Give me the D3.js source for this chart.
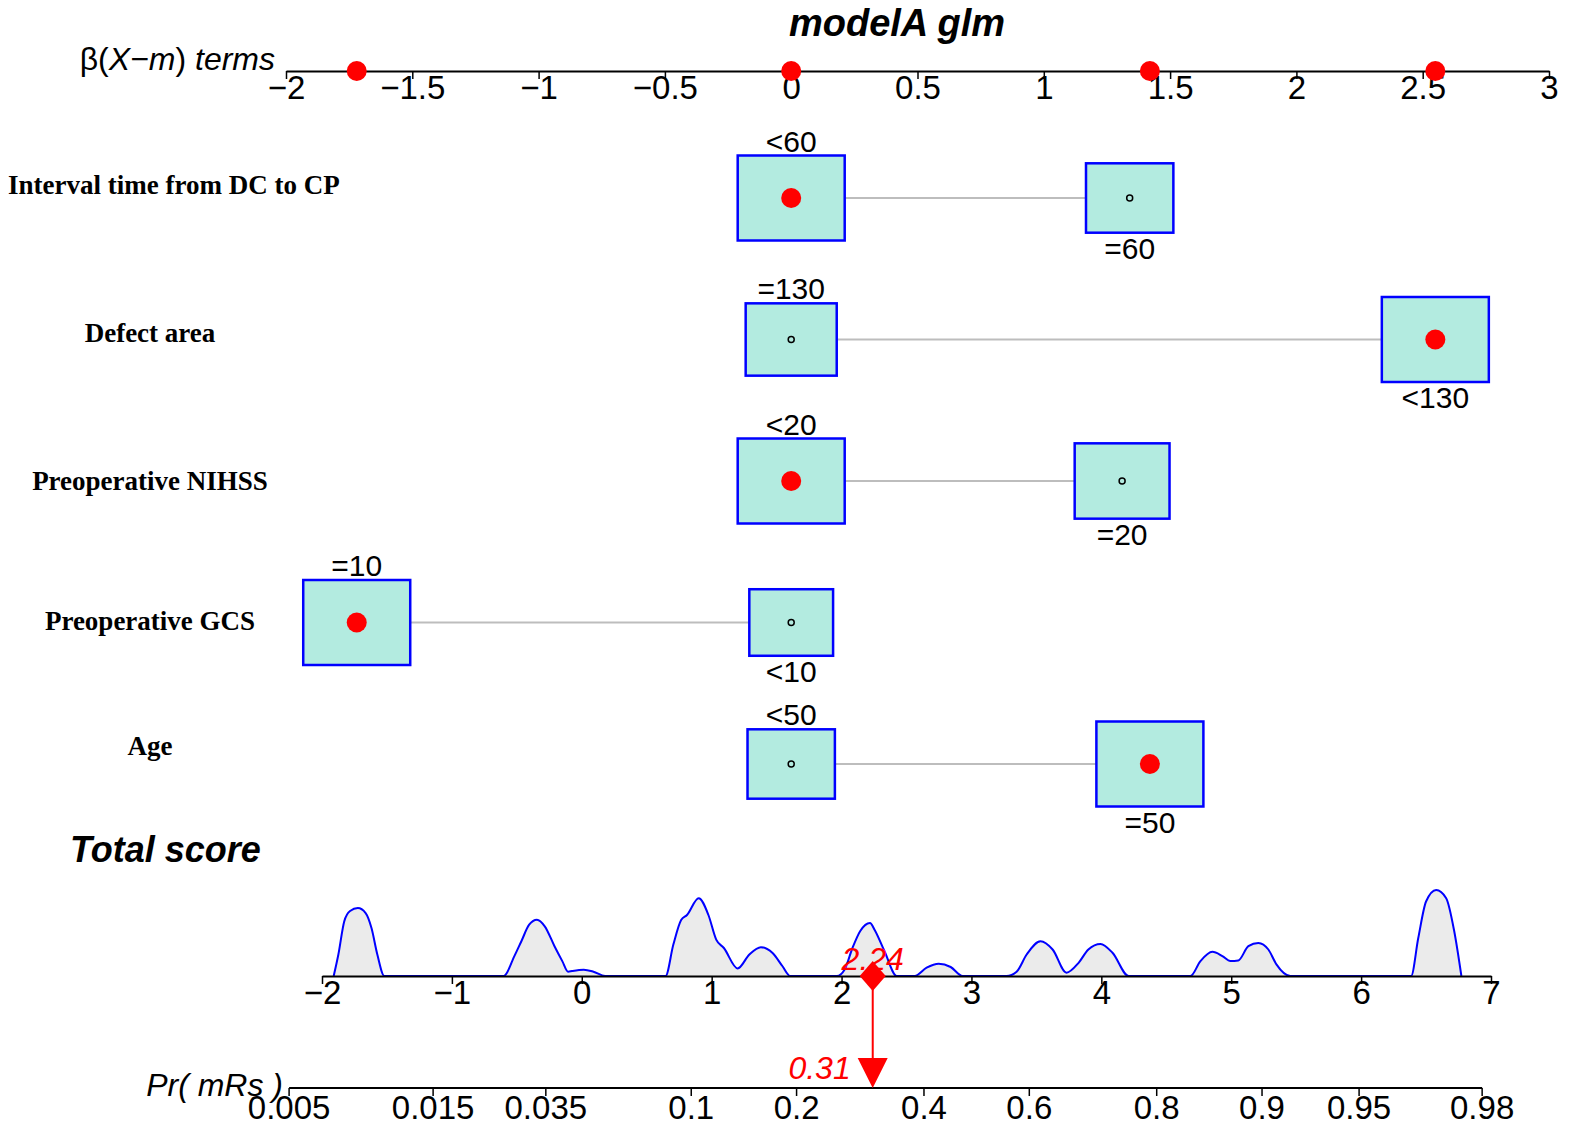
<!DOCTYPE html>
<html>
<head>
<meta charset="utf-8">
<script src="https://cdn.jsdelivr.net/npm/d3@7"></script>
<style>
  body { margin: 0; background: #fff; }
  svg { font-family: "Liberation Sans", Arial, sans-serif; }
</style>
</head>
<body>
<div id="chart"></div>
<script>

// Nomogram data

var variables = ["Interval time from DC to CP", "Defect area", "Preoperative NIHSS", "Preoperative GCS", "Age"];
var levelLabels = [["<60", "=60"], ["=130", "<130"], ["<20", "=20"], ["=10", "<10"], ["<50", "=50"]];
var levelBetas = [[0, 1.34], [0, 2.55], [0, 1.31], [-1.72, 0], [0, 1.42]];
var levelFreqs = [[0.60, 0.40], [0.42, 0.58], [0.56, 0.44], [0.62, 0.38], [0.40, 0.60]];
var selectedLevel = [0, 1, 0, 0, 1];

var betaTicks = [-2, -1.5, -1, -0.5, 0, 0.5, 1, 1.5, 2, 2.5, 3];
var scoreTicks = [-2, -1, 0, 1, 2, 3, 4, 5, 6, 7];
var probTicks = [0.005, 0.015, 0.035, 0.1, 0.2, 0.4, 0.6, 0.8, 0.9, 0.95, 0.98];
var probIntercept = -3.04;   // logit(p) = score + intercept

var totalScore = 2.24;
var predictedProb = 0.31;

// density of the total score
var densityX = [-1.91, -1.874, -1.829, -1.784, -1.724, -1.664, -1.619, -1.574, -1.52,
  -0.60, -0.519, -0.465, -0.405, -0.345, -0.285, -0.21, -0.15, -0.105, -0.075, 0.015, 0.09, 0.18,
  0.645, 0.705, 0.765, 0.81, 0.90, 0.975, 1.035, 1.094, 1.2, 1.29, 1.379, 1.469, 1.544, 1.604,
  1.964, 2.024, 2.084, 2.144, 2.219, 2.255, 2.33, 2.425,
  2.563, 2.655, 2.748, 2.84, 2.932,
  3.27, 3.348, 3.425, 3.532, 3.625, 3.732, 3.825, 3.90, 3.994, 4.086, 4.21,
  4.686, 4.763, 4.855, 4.932, 4.994, 5.055, 5.132, 5.209, 5.286, 5.348, 5.455,
  6.385, 6.44, 6.50, 6.578, 6.655, 6.717, 6.772];
var densityY = [0, 0.215, 0.546, 0.65, 0.679, 0.629, 0.48, 0.215, 0,
  0, 0.199, 0.348, 0.513, 0.563, 0.497, 0.298, 0.149, 0.043, 0.05, 0.063, 0.043, 0,
  0, 0.314, 0.56, 0.61, 0.778, 0.61, 0.364, 0.28, 0.076, 0.215, 0.288, 0.23, 0.10, 0,
  0, 0.066, 0.28, 0.45, 0.53, 0.46, 0.25, 0,
  0, 0.083, 0.122, 0.09, 0,
  0, 0.043, 0.215, 0.348, 0.265, 0.033, 0.132, 0.265, 0.321, 0.232, 0,
  0, 0.149, 0.242, 0.199, 0.149, 0.156, 0.298, 0.331, 0.265, 0.116, 0,
  0, 0.38, 0.745, 0.86, 0.778, 0.447, 0];

// SVG set-up

var svgWidth = 1595;
var svgHeight = 1146;

var svg = d3.select('#chart')
  .append('svg')
  .attr('width', svgWidth)
  .attr('height', svgHeight);

// Scales

var betaScale = d3.scaleLinear().domain([-2, 3]).range([286, 1549]);
var rowScale = d3.scalePoint().domain(variables).range([198, 764]);
var scoreScale = d3.scaleLinear().domain([-2, 7]).range([322, 1491]);
var densScale = d3.scaleLinear().domain([0, 1]).range([976, 876]);
var sizeScale = d3.scaleSqrt().domain([0, 1]).range([0, 1]);

var boxMaxW = 107, boxMaxH = 85;
var labelShift = [-13, -7, 0, -2, -18];

var fmt = d3.format("~g");

function styleAxis(g, fontSize) {
  g.attr('font-family', null).attr('font-size', null);
  g.select('.domain').attr('stroke', '#000').attr('stroke-width', 2);
  g.selectAll('.tick line').attr('stroke', '#000').attr('stroke-width', 1.5);
  g.selectAll('.tick text')
    .attr('font-size', fontSize)
    .attr('fill', '#000');
}

// Title
svg.append('text')
  .attr('x', 897).attr('y', 36)
  .attr('text-anchor', 'middle')
  .attr('font-size', 38).attr('font-weight', 'bold').attr('font-style', 'italic')
  .text('modelA glm');

// β axis at the top
var betaAxis = svg.append('g')
  .attr('transform', 'translate(0,71)')
  .call(d3.axisBottom(betaScale).tickValues(betaTicks).tickSize(8).tickSizeOuter(0).tickPadding(-3).tickFormat(fmt));
styleAxis(betaAxis, 33);

var betaLabel = svg.append('text')
  .attr('x', 275).attr('y', 70)
  .attr('text-anchor', 'end')
  .attr('font-size', 32);
betaLabel.append('tspan').text('β(');
betaLabel.append('tspan').attr('font-style', 'italic').text('X−m');
betaLabel.append('tspan').text(') ');
betaLabel.append('tspan').attr('font-style', 'italic').text('terms');

// selected β values on the top axis
var selectedBetas = [];
levelBetas.forEach(function (b, i) {
  var v = b[selectedLevel[i]];
  if (selectedBetas.indexOf(v) < 0) selectedBetas.push(v);
});
svg.append('g').selectAll('circle')
  .data(selectedBetas)
  .enter()
  .append('circle')
  .attr('cx', function (d) { return betaScale(d); })
  .attr('cy', 71)
  .attr('r', 10)
  .attr('fill', '#ff0000');

// One row per variable
variables.forEach(function (name, i) {
  var y = rowScale(name);
  var row = svg.append('g');
  var fmax = d3.max(levelFreqs[i]);

  var boxes = levelBetas[i].map(function (b, j) {
    var s = sizeScale(levelFreqs[i][j] / fmax);
    return { beta: b, w: boxMaxW * s, h: boxMaxH * s, label: levelLabels[i][j], j: j };
  });

  // connecting line
  var xs = boxes.map(function (d) { return betaScale(d.beta); });
  row.append('line')
    .attr('x1', d3.min(xs)).attr('x2', d3.max(xs))
    .attr('y1', y).attr('y2', y)
    .attr('stroke', '#bdbdbd').attr('stroke-width', 2);

  row.selectAll('rect')
    .data(boxes)
    .enter()
    .append('rect')
    .attr('x', function (d) { return betaScale(d.beta) - d.w / 2; })
    .attr('y', function (d) { return y - d.h / 2; })
    .attr('width', function (d) { return d.w; })
    .attr('height', function (d) { return d.h; })
    .attr('fill', '#b3ebe0')
    .attr('stroke', '#0000ff')
    .attr('stroke-width', 2.5);

  // first level above the box, second below
  row.selectAll('text.lvl')
    .data(boxes)
    .enter()
    .append('text')
    .attr('class', 'lvl')
    .attr('x', function (d) { return betaScale(d.beta); })
    .attr('y', function (d) { return d.j === 0 ? y - d.h / 2 - 4 : y + d.h / 2 + 26; })
    .attr('text-anchor', 'middle')
    .attr('font-size', 30)
    .text(function (d) { return d.label; });

  row.selectAll('circle')
    .data(boxes)
    .enter()
    .append('circle')
    .attr('cx', function (d) { return betaScale(d.beta); })
    .attr('cy', y)
    .attr('r', function (d) { return d.j === selectedLevel[i] ? 10 : 3; })
    .attr('fill', function (d) { return d.j === selectedLevel[i] ? '#ff0000' : 'none'; })
    .attr('stroke', function (d) { return d.j === selectedLevel[i] ? 'none' : '#000'; })
    .attr('stroke-width', 1.5);

  // variable name (serif bold)
  var lab = row.append('text')
    .attr('x', 150).attr('y', y + labelShift[i] + 9)
    .attr('text-anchor', 'middle')
    .style('font-family', '"Liberation Serif", "Times New Roman", serif')
    .attr('font-weight', 'bold')
    .attr('font-size', 27)
    .text(name);
  var bb = lab.node().getBBox();
  if (bb.x < 8) lab.attr('x', 150 + (8 - bb.x));
});

// Total score
svg.append('text')
  .attr('x', 70).attr('y', 862)
  .attr('font-size', 36).attr('font-weight', 'bold').attr('font-style', 'italic')
  .text('Total score');

var densPts = densityX.map(function (x, i) { return [x, densityY[i]]; });

svg.append('path')
  .datum(densPts)
  .attr('fill', '#ebebeb')
  .attr('d', d3.area()
    .x(function (d) { return scoreScale(d[0]); })
    .y0(densScale(0))
    .y1(function (d) { return densScale(d[1]); })
    .curve(d3.curveMonotoneX));

svg.append('path')
  .datum(densPts)
  .attr('fill', 'none')
  .attr('stroke', '#0000ff')
  .attr('stroke-width', 2)
  .attr('d', d3.line()
    .x(function (d) { return scoreScale(d[0]); })
    .y(function (d) { return densScale(d[1]); })
    .curve(d3.curveMonotoneX));

var scoreAxis = svg.append('g')
  .attr('transform', 'translate(0,976)')
  .call(d3.axisBottom(scoreScale).tickValues(scoreTicks).tickSize(8).tickSizeOuter(0).tickPadding(-3).tickFormat(fmt));
styleAxis(scoreAxis, 33);

// Probability axis: positions follow the logit of the total score
function probX(p) {
  return scoreScale(Math.log(p / (1 - p)) - probIntercept);
}

var probAxisY = 1088;
var probAxis = svg.append('g').attr('transform', 'translate(0,' + probAxisY + ')');
probAxis.append('line')
  .attr('x1', probX(probTicks[0])).attr('x2', probX(probTicks[probTicks.length - 1]))
  .attr('stroke', '#000').attr('stroke-width', 2);
probAxis.selectAll('line.tk')
  .data(probTicks)
  .enter()
  .append('line')
  .attr('class', 'tk')
  .attr('x1', probX).attr('x2', probX)
  .attr('y1', 0).attr('y2', 8)
  .attr('stroke', '#000').attr('stroke-width', 1.5);
probAxis.selectAll('text')
  .data(probTicks)
  .enter()
  .append('text')
  .attr('x', probX)
  .attr('y', 31)
  .attr('text-anchor', 'middle')
  .attr('font-size', 33)
  .text(function (d) { return fmt(d); });

svg.append('text')
  .attr('x', 283).attr('y', 1096)
  .attr('text-anchor', 'end')
  .attr('font-size', 32).attr('font-style', 'italic')
  .text('Pr( mRs )');

// Red marker: total score → probability
var sx = scoreScale(totalScore);
svg.append('line')
  .attr('x1', sx).attr('x2', sx)
  .attr('y1', 976).attr('y2', probAxisY - 26)
  .attr('stroke', '#ff0000').attr('stroke-width', 2);

svg.append('path')
  .attr('d', 'M' + sx + ',' + (976 - 15) + 'L' + (sx + 13) + ',976L' + sx + ',' + (976 + 15) + 'L' + (sx - 13) + ',976Z')
  .attr('fill', '#ff0000');

var px = probX(predictedProb);
svg.append('path')
  .attr('d', 'M' + (px - 15) + ',' + (probAxisY - 30) + 'L' + (px + 15) + ',' + (probAxisY - 30) + 'L' + px + ',' + probAxisY + 'Z')
  .attr('fill', '#ff0000');

svg.append('text')
  .attr('x', sx).attr('y', 970)
  .attr('text-anchor', 'middle')
  .attr('font-size', 32).attr('font-style', 'italic')
  .attr('fill', '#ff0000')
  .text(d3.format('.2f')(totalScore));

svg.append('text')
  .attr('x', px - 22).attr('y', 1079)
  .attr('text-anchor', 'end')
  .attr('font-size', 32).attr('font-style', 'italic')
  .attr('fill', '#ff0000')
  .text(d3.format('.2f')(predictedProb));

</script>
</body>
</html>
